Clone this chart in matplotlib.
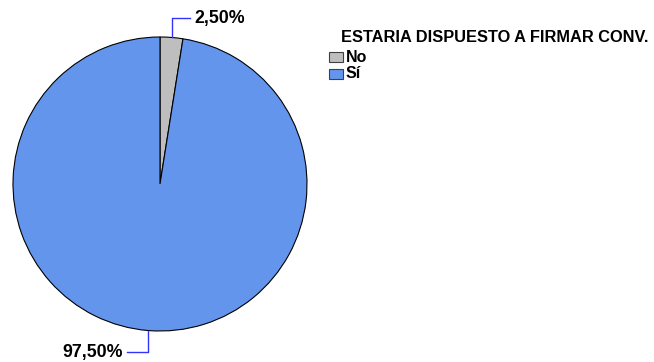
import matplotlib
matplotlib.use("Agg")
import matplotlib.pyplot as plt
from matplotlib.patches import Rectangle
import numpy as np

categories = ["No", "Sí"]
shares = [2.5, 97.5]
labels = ["2,50%", "97,50%"]
colors = ["#bebebe", "#6495ed"]
legend_title = "ESTARIA DISPUESTO A FIRMAR CONV."

W, H = 654, 362
fig = plt.figure(figsize=(W / 100, H / 100), dpi=100)
plt.rcParams["font.family"] = ["Liberation Sans", "DejaVu Sans"]

# pie centre ~ (160, 184) px, radius ~147 px
cx, cy, r = 160, 184, 147
ax = fig.add_axes([(cx - r) / W, (H - cy - r) / H, 2 * r / W, 2 * r / H])
wedges, _ = ax.pie(shares, colors=colors, startangle=90, counterclock=False,
                   wedgeprops=dict(edgecolor="black", linewidth=0.8))
ax.set_xlim(-1, 1)
ax.set_ylim(-1, 1)
ax.set_aspect("equal")
ax.axis("off")

# leader lines: up/down from wedge midpoint, then sideways to the label
leader = [(+1.129, +0.204, "left"), (-1.143, -0.224, "right")]
for w, lab, (ly, lx, ha) in zip(wedges, labels, leader):
    ang = np.deg2rad((w.theta1 + w.theta2) / 2)
    x0, y0 = np.cos(ang), np.sin(ang)
    ax.plot([x0, x0, lx], [y0, ly, ly], color="#3333ff", lw=1, clip_on=False)
    tx = lx + (0.03 if ha == "left" else -0.03)
    ax.text(tx, ly, lab, ha=ha, va="center", fontsize=12.8, fontweight="bold",
            clip_on=False)

# legend
fig.text(341 / W, 1 - 37 / H, legend_title, ha="left", va="center",
         fontsize=11.8, fontweight="bold")
for i, (cat, col) in enumerate(zip(categories, colors)):
    yc = 57 + i * 17
    fig.patches.append(Rectangle((329 / W, 1 - (yc + 5) / H), 14 / W, 10 / H,
                                 transform=fig.transFigure, facecolor=col,
                                 edgecolor="#404040", lw=0.8))
    fig.text(346 / W, 1 - yc / H, cat, ha="left", va="center",
             fontsize=11.5, fontweight="bold")

fig.savefig("out.png", dpi=100)
